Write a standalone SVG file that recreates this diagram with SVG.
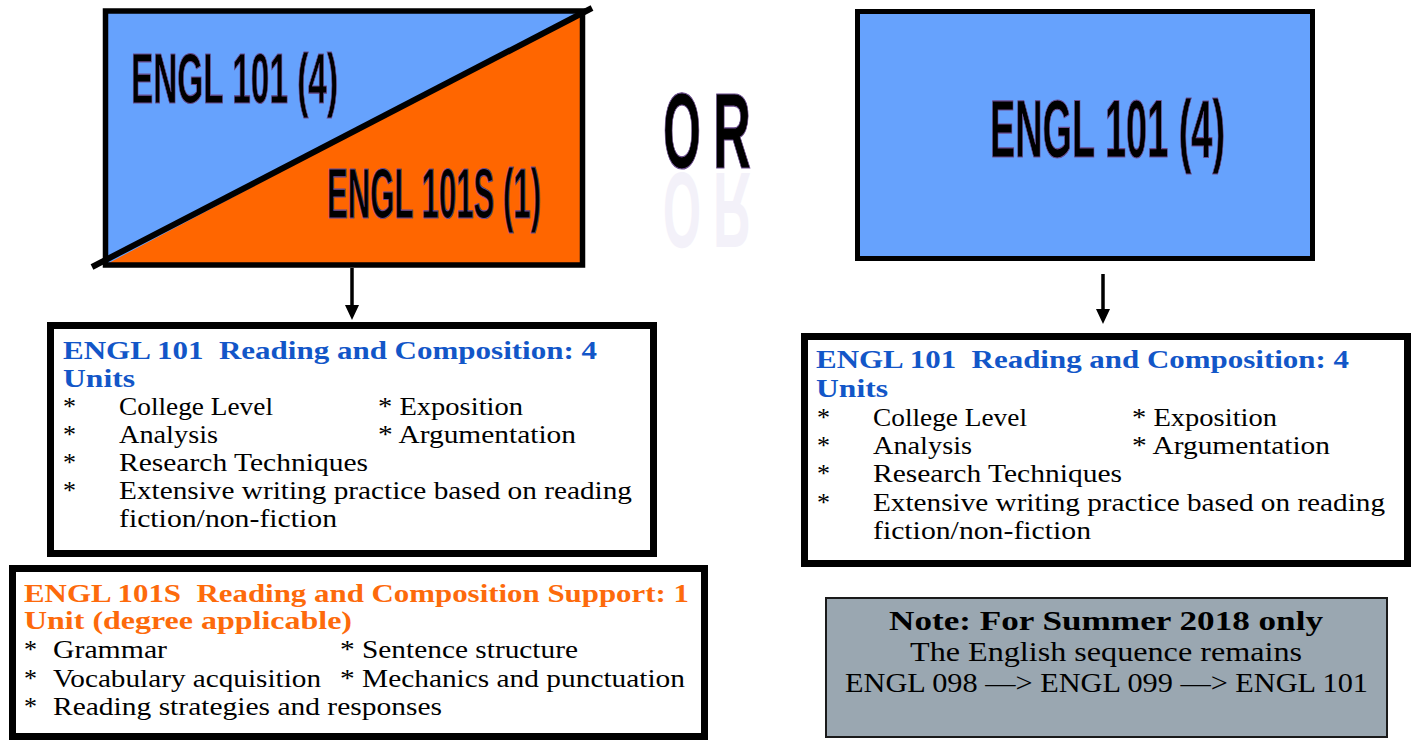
<svg xmlns="http://www.w3.org/2000/svg" width="1413" height="740" viewBox="0 0 1413 740">
<style>
.big{font-family:"Liberation Sans Narrow","Liberation Sans",Arial,sans-serif;font-weight:bold;fill:#000;stroke:#6b4c8f;stroke-width:1.2}
.refl{font-family:"Liberation Sans",Arial,sans-serif;font-weight:bold;fill:#f3f1f9;font-size:107px}
.ttl{font-family:"Liberation Serif","DejaVu Serif",serif;font-weight:bold;font-size:25px}
.blue{fill:#1256c8}
.orange{fill:#fd6a0b}
.body{font-family:"Liberation Serif","DejaVu Serif",serif;font-size:26px;fill:#000}
.box{fill:#fff;stroke:#000;stroke-width:7}
.note{font-family:"Liberation Serif","DejaVu Serif",serif;font-size:27px;fill:#000}
.conn{stroke:#000;stroke-width:3.5}
</style>

<g id="node-split">
<rect x="105.5" y="11" width="477" height="254" fill="#66a2fd"/>
<polygon points="105,265 582,12 582,265" fill="#ff6600"/>
<rect x="105.5" y="11" width="477" height="254" fill="none" stroke="#000" stroke-width="5.5"/>
<line x1="92" y1="267" x2="592" y2="8" stroke="#000" stroke-width="6"/>
<text class="big" x="131" y="103" font-size="71" textLength="207" lengthAdjust="spacingAndGlyphs">ENGL 101 (4)</text>
<text class="big" x="327" y="218" font-size="70" textLength="214" lengthAdjust="spacingAndGlyphs">ENGL 101S (1)</text>
</g>

<g id="or">
<g transform="translate(0,341) scale(1,-1)">
<text class="refl" x="663" y="168" textLength="38" lengthAdjust="spacingAndGlyphs">O</text>
<text class="refl" x="713" y="168" textLength="38" lengthAdjust="spacingAndGlyphs">R</text>
</g>
<text class="big" x="663" y="168" font-size="107" stroke-width="2" textLength="38" lengthAdjust="spacingAndGlyphs">O</text>
<text class="big" x="713" y="168" font-size="107" stroke-width="2" textLength="38" lengthAdjust="spacingAndGlyphs">R</text>
</g>

<g id="node-right">
<rect x="857.5" y="11.5" width="455" height="247" fill="#66a2fd" stroke="#000" stroke-width="5"/>
<text class="big" x="990" y="157" font-size="82" textLength="235" lengthAdjust="spacingAndGlyphs">ENGL 101 (4)</text>
</g>

<g id="connectors">
<line class="conn" x1="352" y1="268" x2="352" y2="306"/>
<polygon points="345,305 359,305 352,320" fill="#000"/>
<line class="conn" x1="1103" y1="274" x2="1103" y2="310"/>
<polygon points="1096,309 1110,309 1103,324" fill="#000"/>
</g>

<g id="box-engl101-left">
<rect class="box" x="50.5" y="325.5" width="603" height="228"/>
<text class="ttl blue" x="63" y="359" xml:space="preserve" textLength="534" lengthAdjust="spacingAndGlyphs">ENGL 101  Reading and Composition: 4</text>
<text class="ttl blue" x="63" y="387" textLength="72" lengthAdjust="spacingAndGlyphs">Units</text>
<text class="body" x="63" y="415">*</text>
<text class="body" x="63" y="443">*</text>
<text class="body" x="63" y="471">*</text>
<text class="body" x="63" y="499">*</text>
<text class="body" x="119" y="415" textLength="154" lengthAdjust="spacingAndGlyphs">College Level</text>
<text class="body" x="119" y="443" textLength="99" lengthAdjust="spacingAndGlyphs">Analysis</text>
<text class="body" x="119" y="471" textLength="249" lengthAdjust="spacingAndGlyphs">Research Techniques</text>
<text class="body" x="119" y="499" textLength="513" lengthAdjust="spacingAndGlyphs">Extensive writing practice based on reading</text>
<text class="body" x="119" y="527" textLength="218" lengthAdjust="spacingAndGlyphs">fiction/non-fiction</text>
<text class="body" x="378" y="415" textLength="145" lengthAdjust="spacingAndGlyphs">* Exposition</text>
<text class="body" x="378" y="443" textLength="198" lengthAdjust="spacingAndGlyphs">* Argumentation</text>
</g>

<g id="box-engl101s">
<rect class="box" x="12.5" y="568.5" width="692" height="168"/>
<text class="ttl orange" x="24" y="602" xml:space="preserve" textLength="665" lengthAdjust="spacingAndGlyphs">ENGL 101S  Reading and Composition Support: 1</text>
<text class="ttl orange" x="24" y="629" textLength="328" lengthAdjust="spacingAndGlyphs">Unit (degree applicable)</text>
<text class="body" x="24" y="658">*</text>
<text class="body" x="24" y="687">*</text>
<text class="body" x="24" y="715">*</text>
<text class="body" x="53" y="658" textLength="114" lengthAdjust="spacingAndGlyphs">Grammar</text>
<text class="body" x="53" y="687" textLength="268" lengthAdjust="spacingAndGlyphs">Vocabulary acquisition</text>
<text class="body" x="53" y="715" textLength="389" lengthAdjust="spacingAndGlyphs">Reading strategies and responses</text>
<text class="body" x="340" y="658" textLength="238" lengthAdjust="spacingAndGlyphs">* Sentence structure</text>
<text class="body" x="340" y="687" textLength="345" lengthAdjust="spacingAndGlyphs">* Mechanics and punctuation</text>
</g>

<g id="box-engl101-right">
<rect class="box" x="804.5" y="336.5" width="603" height="227"/>
<text class="ttl blue" x="816" y="368" xml:space="preserve" textLength="533" lengthAdjust="spacingAndGlyphs">ENGL 101  Reading and Composition: 4</text>
<text class="ttl blue" x="816" y="397" textLength="72" lengthAdjust="spacingAndGlyphs">Units</text>
<text class="body" x="817" y="426">*</text>
<text class="body" x="817" y="454">*</text>
<text class="body" x="817" y="482">*</text>
<text class="body" x="817" y="511">*</text>
<text class="body" x="873" y="426" textLength="154" lengthAdjust="spacingAndGlyphs">College Level</text>
<text class="body" x="873" y="454" textLength="99" lengthAdjust="spacingAndGlyphs">Analysis</text>
<text class="body" x="873" y="482" textLength="249" lengthAdjust="spacingAndGlyphs">Research Techniques</text>
<text class="body" x="873" y="511" textLength="512" lengthAdjust="spacingAndGlyphs">Extensive writing practice based on reading</text>
<text class="body" x="873" y="539" textLength="218" lengthAdjust="spacingAndGlyphs">fiction/non-fiction</text>
<text class="body" x="1132" y="426" textLength="145" lengthAdjust="spacingAndGlyphs">* Exposition</text>
<text class="body" x="1132" y="454" textLength="198" lengthAdjust="spacingAndGlyphs">* Argumentation</text>
</g>

<g id="note">
<rect x="826" y="598" width="561" height="139" fill="#9aa7b1" stroke="#1a1a1a" stroke-width="2"/>
<text class="note" x="889" y="630" font-weight="bold" textLength="434" lengthAdjust="spacingAndGlyphs">Note: For Summer 2018 only</text>
<text class="note" x="910" y="661" textLength="392" lengthAdjust="spacingAndGlyphs">The English sequence remains</text>
<text class="note" x="845" y="692" textLength="523" lengthAdjust="spacingAndGlyphs">ENGL 098 —&gt; ENGL 099 —&gt; ENGL 101</text>
</g>
</svg>
